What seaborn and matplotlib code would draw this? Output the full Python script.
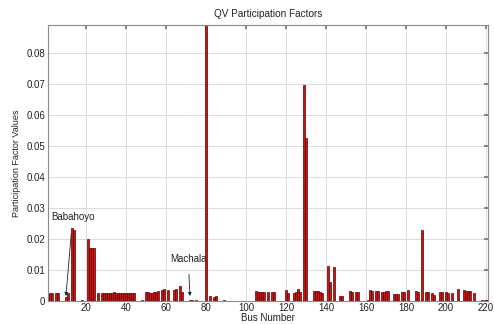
import matplotlib
matplotlib.use("Agg")
import matplotlib.pyplot as plt
import seaborn as sns
import numpy as np
from matplotlib.ticker import FixedLocator, FuncFormatter

# ---- data ----
buses = [1, 2, 3, 5, 6, 10, 11, 13, 14, 18, 21, 22, 23, 24, 26,
         28, 29, 30, 31, 32, 33, 34, 35, 36, 37, 38, 39, 40, 41, 42, 43, 44, 48,
         50, 51, 52, 53, 54, 55, 56, 58, 59, 61, 64, 65, 67, 68,
         72, 73, 75, 80, 82, 84, 85, 89,
         105, 106, 107, 108, 109, 111, 113, 114, 120, 121, 124, 125, 126, 127,
         129, 130, 134, 135, 136, 137, 138, 141, 142, 144, 147, 148,
         152, 153, 155, 156, 161, 162, 163, 165, 166, 168, 169, 170, 171,
         174, 175, 176, 178, 179, 181, 185, 186, 188, 190, 191, 193, 194,
         197, 198, 200, 201, 203, 206, 209, 210, 211, 212, 214, 218, 220]
values = [0.0024, 0.0025, 0.0025, 0.0025, 0.0025, 0.0013, 0.0025, 0.0235, 0.0230,
          0.0002, 0.0201, 0.0170, 0.0170, 0.0170, 0.0025,
          0.0025, 0.0027, 0.0027, 0.0026, 0.0027, 0.0027, 0.0028, 0.0027, 0.0026,
          0.0027, 0.0027, 0.0026, 0.0027, 0.0027, 0.0026, 0.0027, 0.0026, 0.0002,
          0.0030, 0.0028, 0.0027, 0.0027, 0.0028, 0.0030, 0.0033, 0.0037, 0.0038,
          0.0036, 0.0037, 0.0040, 0.0048, 0.0030,
          0.0002, 0.0002, 0.0002, 0.0895, 0.0015, 0.0013, 0.0015, 0.0002,
          0.0033, 0.0030, 0.0030, 0.0030, 0.0030, 0.0028, 0.0028, 0.0028,
          0.0035, 0.0027, 0.0025, 0.0030, 0.0038, 0.0030,
          0.0695, 0.0525, 0.0032, 0.0032, 0.0031, 0.0030, 0.0027, 0.0114, 0.0061,
          0.0109, 0.0017, 0.0017,
          0.0031, 0.0028, 0.0028, 0.0028, 0.0002, 0.0034, 0.0033, 0.0032, 0.0032,
          0.0028, 0.0030, 0.0032, 0.0033,
          0.0022, 0.0022, 0.0023, 0.0028, 0.0028, 0.0035, 0.0033, 0.0030, 0.0229,
          0.0030, 0.0029, 0.0025, 0.0020,
          0.0030, 0.0030, 0.0028, 0.0027, 0.0025, 0.0038, 0.0037, 0.0033, 0.0033,
          0.0033, 0.0025, 0.0003, 0.0003]

x_ticks = [20, 40, 60, 80, 100, 120, 140, 160, 180, 200, 220]
y_ticks = [0, 0.01, 0.02, 0.03, 0.04, 0.05, 0.06, 0.07, 0.08]

sns.set_theme(style="white")
plt.rcParams['font.family'] = ['Liberation Sans', 'DejaVu Sans']

fig = plt.figure(figsize=(4.94, 3.24), dpi=100)
ax = fig.add_axes([0.097, 0.071, 0.891, 0.852])

sns.barplot(x=buses, y=values, native_scale=True, ax=ax, color="#cc1414",
            saturation=1, edgecolor="#5a0000", linewidth=0.5, width=0.8,
            errorbar=None, zorder=2)

ax.set_xlim(1, 221)
ax.set_ylim(0, 0.089)
ax.xaxis.set_major_locator(FixedLocator(x_ticks))
ax.yaxis.set_major_locator(FixedLocator(y_ticks))
ax.yaxis.set_major_formatter(FuncFormatter(lambda v, p: "0" if v == 0 else f"{v:.2f}"))

ax.grid(True, color="#d6d6d6", linewidth=0.6, linestyle="-", zorder=0)
ax.set_axisbelow(True)
for s in ax.spines.values():
    s.set_color("#8a8a8a")
    s.set_linewidth(0.8)
ax.tick_params(axis="both", which="major", labelsize=7, direction="in", length=3,
               color="#777777", top=True, right=True, pad=2, labelcolor="#222222")
ax.tick_params(axis="x", pad=1.5)

ax.set_title("QV Participation Factors", fontsize=7.2, pad=6, color="#222222")
ax.set_xlabel("Bus Number", fontsize=7, labelpad=0, color="#222222")
ax.set_ylabel("Participation Factor Values", fontsize=6.5, labelpad=4, color="#222222")

ax.annotate("Babahoyo", xy=(10, 0.0016), xytext=(2.5, 0.027), fontsize=7,
            va="center", ha="left", color="#222222",
            arrowprops=dict(arrowstyle="-|>", color="#222222", lw=0.6,
                            mutation_scale=5, shrinkA=6, shrinkB=0))
ax.annotate("Machala", xy=(72, 0.0016), xytext=(62, 0.0135), fontsize=7,
            va="center", ha="left", color="#222222", zorder=1,
            arrowprops=dict(arrowstyle="-|>", color="#222222", lw=0.6,
                            mutation_scale=5, shrinkA=5, shrinkB=0))

fig.savefig("out.png", dpi=100, facecolor="white")
